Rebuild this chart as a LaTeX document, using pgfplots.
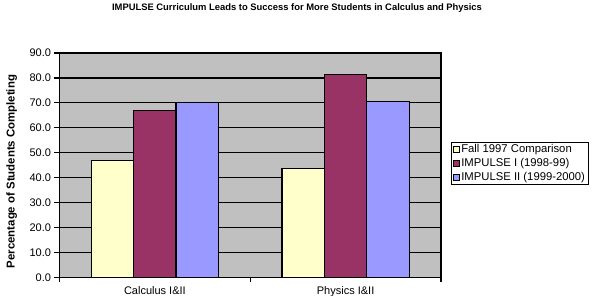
\documentclass[border=0pt]{standalone}
\usepackage{fontspec}
\setmainfont{Liberation Sans}
\usepackage{pgfplots}
\pgfplotsset{compat=1.18}
\definecolor{bgc}{HTML}{C0C0C0}
\definecolor{c1}{HTML}{FFFFCC}
\definecolor{c2}{HTML}{993366}
\definecolor{c3}{HTML}{9999FF}
\begin{document}
\begin{tikzpicture}
\useasboundingbox (-59.5pt,-18.5pt) rectangle (534.5pt,277.5pt);
\begin{axis}[
 at={(0pt,0pt)}, anchor=south west,
 scale only axis, width=381.5pt, height=224.5pt,
 xmin=-0.5, xmax=1.5, ymin=0, ymax=90,
 axis background/.style={fill=bgc},
 axis line style={black, line width=1.5pt},
 ymajorgrids, grid style={black, line width=1.2pt},
 ytick={0,10,...,90},
 yticklabel style={/pgf/number format/.cd, fixed, fixed zerofill, precision=1},
 tick align=outside, tick pos=left,
 major tick length=5pt, minor tick length=5pt,
 tick style={black, line width=1.2pt},
 xtick={0,1}, xticklabels={Calculus I\&II, Physics I\&II},
 major x tick style={draw=none},
 minor xtick={-0.5,0.5,1.5},
 ticklabel style={font=\fontsize{11}{13}\selectfont},
 /pgf/number format/assume math mode=true,
 title={IMPULSE Curriculum Leads to Success for More Students in Calculus and Physics},
 title style={font=\bfseries\fontsize{9.4}{11}\selectfont, at={(axis description cs:0.6225,1.1737)}, anchor=center},
 ylabel={Percentage of Students Completing},
 ylabel style={font=\bfseries\fontsize{11.4}{13}\selectfont, at={(axis description cs:-0.125,0.472)}, anchor=center},
 legend style={at={(axis description cs:1.0262,0.6036)}, anchor=north west, draw=black, line width=1pt, fill=white,
   font=\fontsize{11.3}{13}\selectfont, inner xsep=2pt, inner ysep=1pt, row sep=1.5pt,
   nodes={inner sep=1pt, text height=8pt, text depth=2.5pt}},
 legend cell align=left,
]
\addplot[ybar, bar width=0.2222, bar shift=-0.2222, fill=c1, draw=black, line width=1.2pt,
  legend image code/.code={\draw[fill=c1, draw=black, line width=0.8pt] (0pt,-3pt) rectangle (6pt,3pt);}]
  coordinates {(0,47) (1,43.6)};
\addlegendentry{Fall 1997 Comparison}
\addplot[ybar, bar width=0.2222, bar shift=0, fill=c2, draw=black, line width=1.2pt,
  legend image code/.code={\draw[fill=c2, draw=black, line width=0.8pt] (0pt,-3pt) rectangle (6pt,3pt);}]
  coordinates {(0,67) (1,81.3)};
\addlegendentry{IMPULSE I (1998-99)}
\addplot[ybar, bar width=0.2222, bar shift=0.2222, fill=c3, draw=black, line width=1.2pt,
  legend image code/.code={\draw[fill=c3, draw=black, line width=0.8pt] (0pt,-3pt) rectangle (6pt,3pt);}]
  coordinates {(0,70) (1,70.7)};
\addlegendentry{IMPULSE II (1999-2000)}
\end{axis}
\end{tikzpicture}
\end{document}
